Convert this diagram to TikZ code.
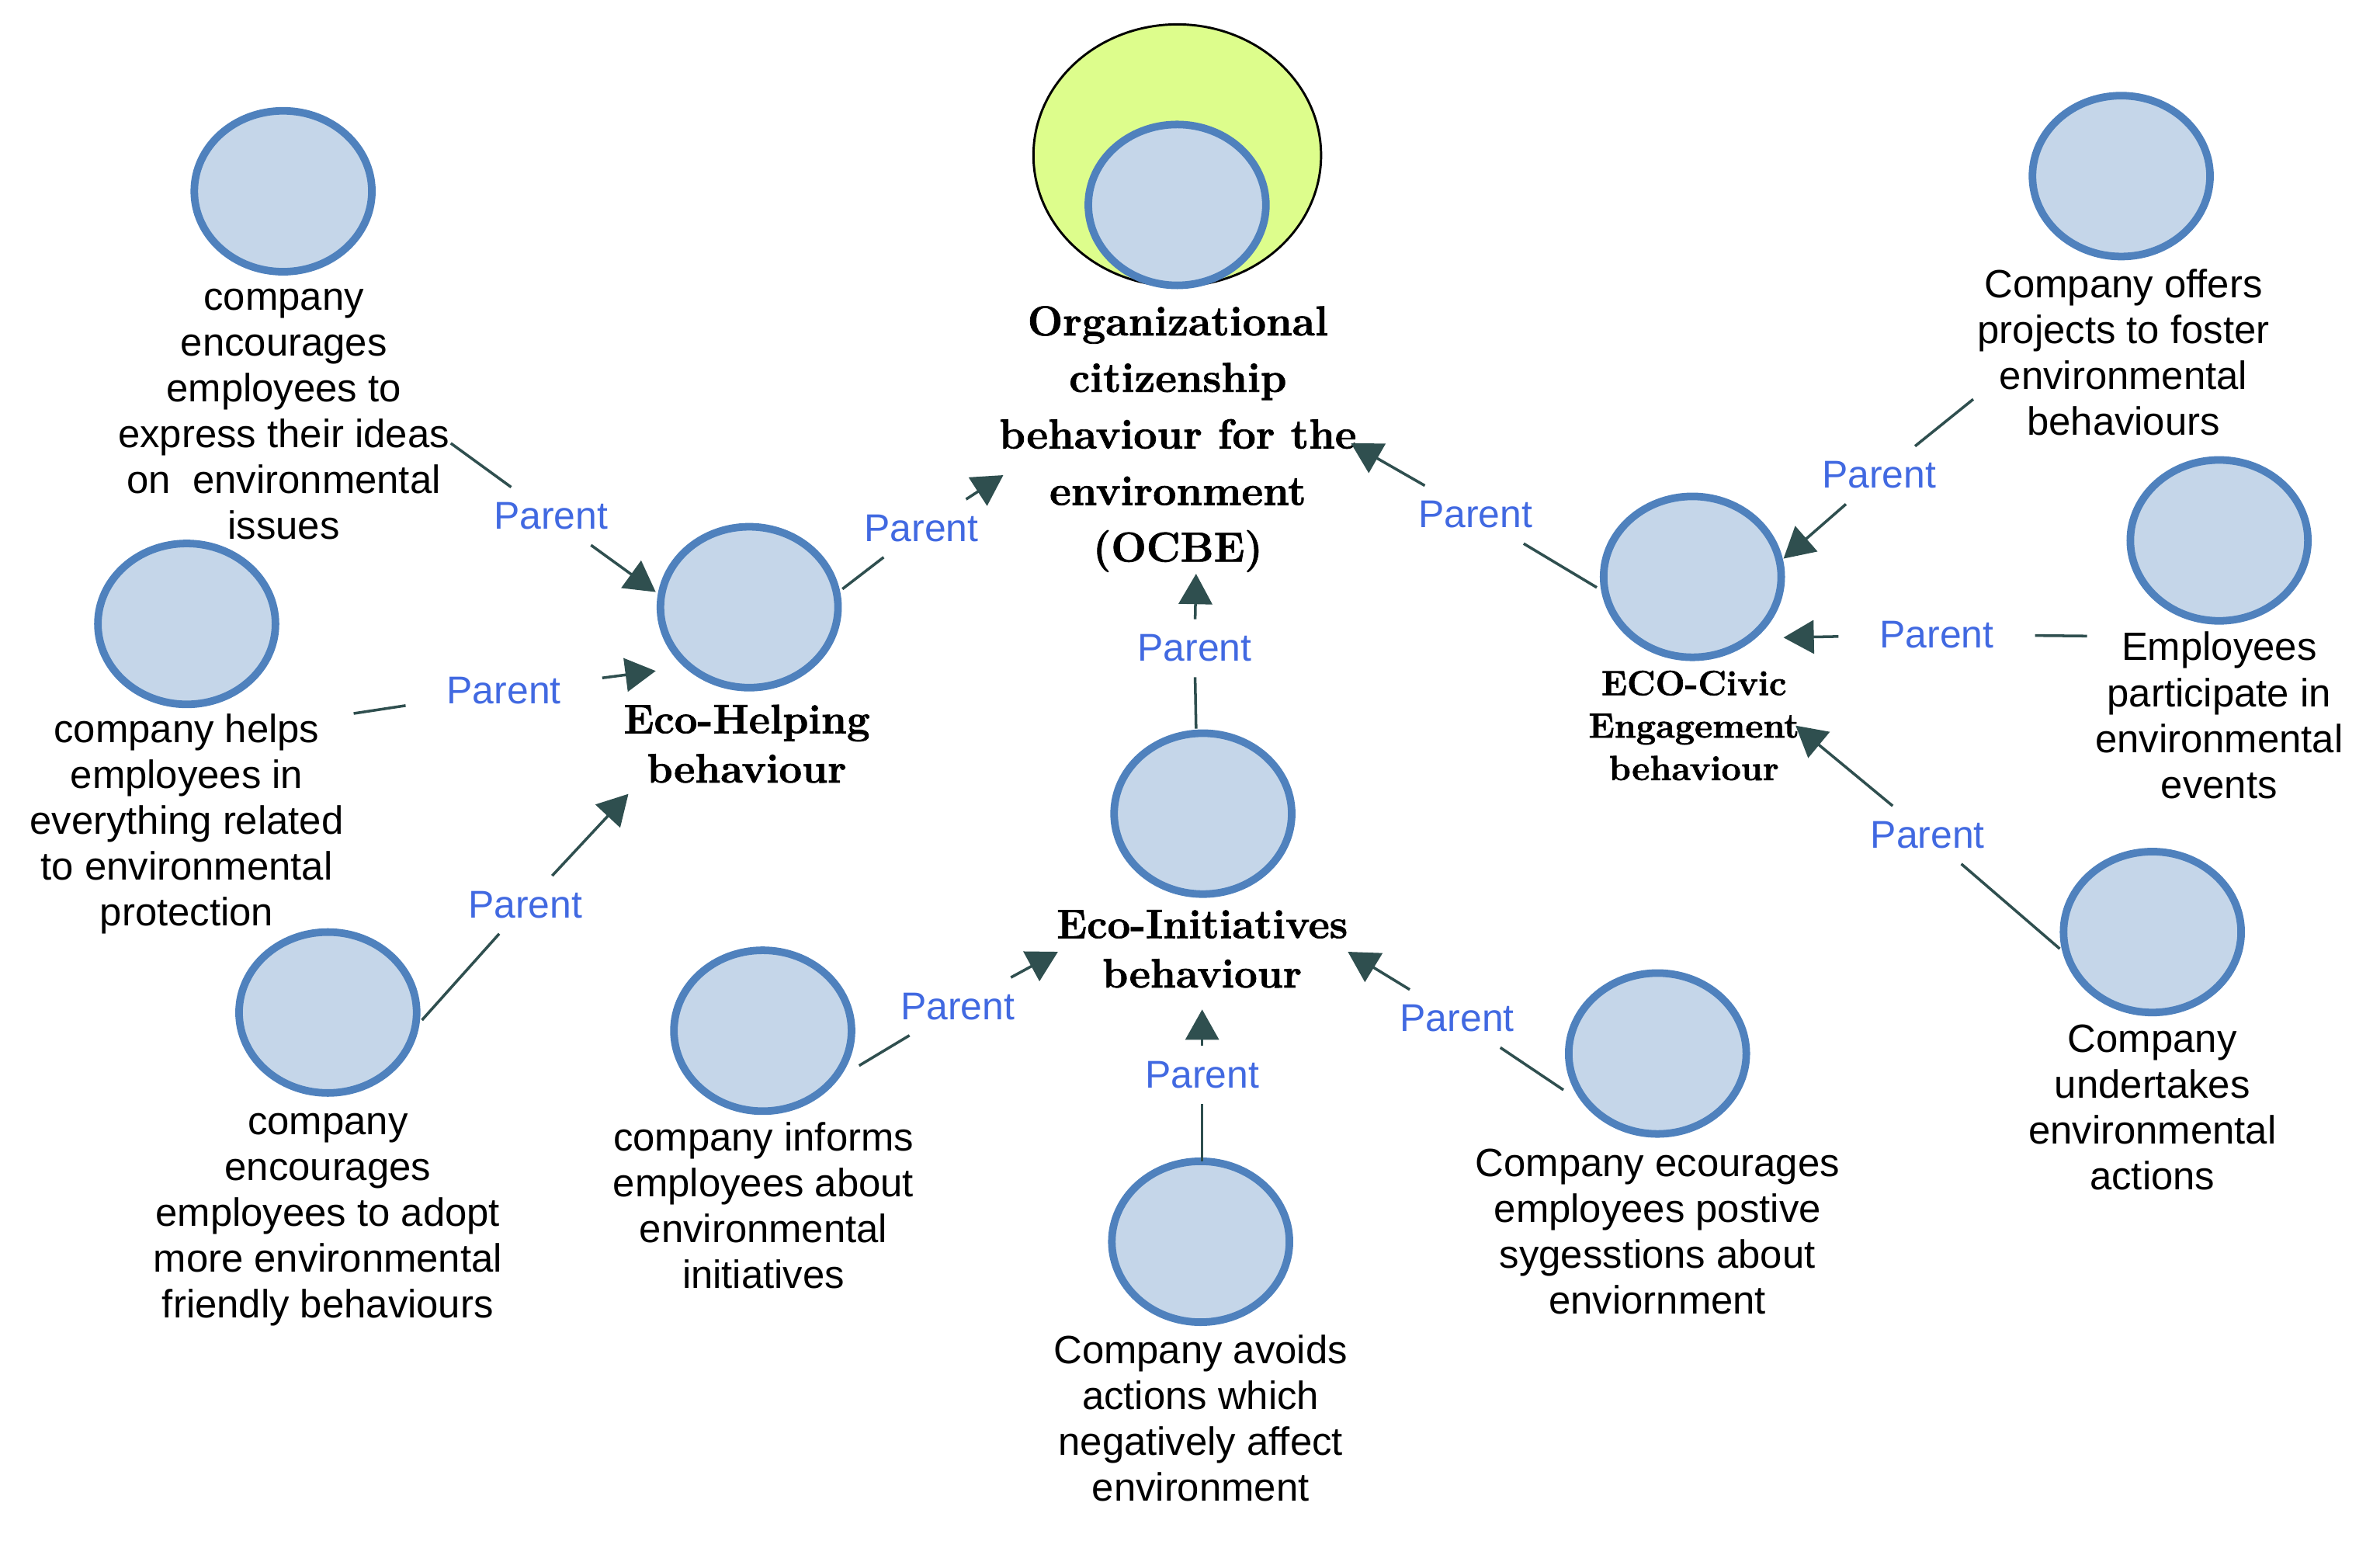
\documentclass[tikz,border=0pt]{standalone}
\usepackage{fontspec}
\newfontfamily\arialfont{Liberation Sans}
\newfontfamily\hdfont[FakeBold=1.5]{Latin Modern Roman}
\usetikzlibrary{shapes.geometric,arrows.meta}
\definecolor{leaffill}{HTML}{C5D6E9}
\definecolor{leafdraw}{HTML}{4F81BD}
\definecolor{ocbefill}{HTML}{DDFD8C}
\definecolor{parentblue}{HTML}{4169E1}
\definecolor{connc}{HTML}{2F4F4F}
\newcommand\lnrule{\rule{0pt}{0.8em}}
\begin{document}
\begin{tikzpicture}[x=1pt,y=-1pt,
  leaf/.style={ellipse,minimum width=117pt,minimum height=106pt,inner sep=0pt,
    fill=leaffill,draw=leafdraw,line width=5pt},
  ocbeouter/.style={ellipse,minimum width=189.5pt,minimum height=172.5pt,inner sep=0pt,
    fill=ocbefill,draw=black,line width=1.5pt},
  lbl/.style={anchor=north,inner sep=0pt,align=center,
    font=\arialfont\fontsize{26}{30.2}\selectfont},
  hdbig/.style={anchor=north,inner sep=0pt,align=center,
    font=\hdfont\fontsize{27.5}{37.25}\selectfont\bfseries},
  hdmid/.style={anchor=north,inner sep=0pt,align=center,
    font=\hdfont\fontsize{27}{32.5}\selectfont\bfseries},
  hdsmall/.style={anchor=north,inner sep=0pt,align=center,
    font=\hdfont\fontsize{23}{28}\selectfont\bfseries},
  plab/.style={inner xsep=27pt,inner ysep=10pt,text=parentblue,
    font=\arialfont\fontsize{25.5}{30}\selectfont},
  conn/.style={draw=connc,line width=1.8pt},
  arr/.style={conn,-{Triangle[length=20pt,width=22pt]}}
]
\useasboundingbox (0,0) rectangle (1568,1015);

% ---------- central node ----------
\node[ocbeouter] (ocbe) at (775.6,102.3) {};
\node[leaf] (ocbein) at (775.5,135) {};
\node[hdbig] (ocbelab) at (776,198.7) {\lnrule Organizational\\citizenship\\behaviour for the\\environment\\(OCBE)};

% ---------- second level ----------
\node[leaf] (help) at (493.6,400) {};
\node[hdmid] (helplab) at (492,461.2) {\lnrule Eco-Helping\\behaviour};

\node[leaf] (init) at (792.5,536) {};
\node[hdmid] (initlab) at (792,596.2) {\lnrule Eco-Initiatives\\behaviour};

\node[leaf] (civic) at (1115,380) {};
\node[hdsmall] (civiclab) at (1116,439.3) {\lnrule ECO-Civic\\Engagement\\behaviour};

% ---------- leaves ----------
\node[leaf] (a1) at (186.5,126) {};
\node[lbl] (a1lab) at (187,183.2) {\lnrule company\\encourages\\employees to\\express their ideas\\on\ \ environmental\\issues};

\node[leaf] (a2) at (123,411) {};
\node[lbl] (a2lab) at (123,468.2) {\lnrule company helps\\employees in\\everything related\\to environmental\\protection};

\node[leaf] (a3) at (216,667) {};
\node[lbl] (a3lab) at (216,726.2) {\lnrule company\\encourages\\employees to adopt\\more environmental\\friendly behaviours};

\node[leaf] (b1) at (502.5,679) {};
\node[lbl] (b1lab) at (503,737.2) {\lnrule company informs\\employees about\\environmental\\initiatives};

\node[leaf] (b2) at (791,818) {};
\node[lbl] (b2lab) at (791,877.2) {\lnrule Company avoids\\actions which\\negatively affect\\environment};

\node[leaf] (b3) at (1092,694) {};
\node[lbl] (b3lab) at (1092,754.2) {\lnrule Company ecourages\\employees postive\\sygesstions about\\enviornment};

\node[leaf] (c1) at (1397.5,116) {};
\node[lbl] (c1lab) at (1399,175.2) {\lnrule Company offers\\projects to foster\\environmental\\behaviours};

\node[leaf] (c2) at (1462,356) {};
\node[lbl] (c2lab) at (1462,414.2) {\lnrule Employees\\participate in\\environmental\\events};

\node[leaf] (c3) at (1418,614) {};
\node[lbl] (c3lab) at (1418,672.2) {\lnrule Company\\undertakes\\environmental\\actions};

% ---------- connectors ----------
% a1 -> help
\coordinate (s1) at (297,292); \coordinate (t1) at (432,390);
\node[plab] (p1) at (363,340) {Parent};
\draw[conn] (s1) -- (p1); \draw[arr] (p1) -- (t1);
% a2 -> help
\coordinate (s2) at (233,470); \coordinate (t2) at (432,442);
\node[plab] (p2) at (332,455) {Parent};
\draw[conn] (s2) -- (p2); \draw[arr] (p2) -- (t2);
% a3 -> help
\coordinate (s3) at (278,672); \coordinate (t3) at (414,523);
\node[plab] (p3) at (346,596) {Parent};
\draw[conn] (s3) -- (p3); \draw[arr] (p3) -- (t3);
% help -> ocbe
\coordinate (s4) at (555,388); \coordinate (t4) at (661,313);
\node[plab] (p4) at (607,348) {Parent};
\draw[conn] (s4) -- (p4); \draw[arr] (p4) -- (t4);
% init -> ocbe
\coordinate (s5) at (788,480); \coordinate (t5) at (788,378);
\node[plab] (p5) at (787,427) {Parent};
\draw[conn] (s5) -- (p5); \draw[arr] (p5) -- (t5);
% civic -> ocbe
\coordinate (s6) at (1052,387); \coordinate (t6) at (890,292);
\node[plab] (p6) at (972,339) {Parent};
\draw[conn] (s6) -- (p6); \draw[arr] (p6) -- (t6);
% c1 -> civic
\coordinate (s7) at (1300,263); \coordinate (t7) at (1175,368);
\node[plab] (p7) at (1238,313) {Parent};
\draw[conn] (s7) -- (p7); \draw[arr] (p7) -- (t7);
% c2 -> civic
\coordinate (s8) at (1375,419); \coordinate (t8) at (1175,420);
\node[plab] (p8) at (1276,418) {Parent};
\draw[conn] (s8) -- (p8); \draw[arr] (p8) -- (t8);
% c3 -> civic
\coordinate (s9) at (1357,625); \coordinate (t9) at (1183,478);
\node[plab] (p9) at (1270,550) {Parent};
\draw[conn] (s9) -- (p9); \draw[arr] (p9) -- (t9);
% b1 -> init
\coordinate (s10) at (566,702); \coordinate (t10) at (697,627);
\node[plab] (p10) at (631,663) {Parent};
\draw[conn] (s10) -- (p10); \draw[arr] (p10) -- (t10);
% b2 -> init
\coordinate (s11) at (792,765); \coordinate (t11) at (792,665);
\node[plab] (p11) at (792,708) {Parent};
\draw[conn] (s11) -- (p11); \draw[arr] (p11) -- (t11);
% b3 -> init
\coordinate (s12) at (1030,718); \coordinate (t12) at (888,627);
\node[plab] (p12) at (960,671) {Parent};
\draw[conn] (s12) -- (p12); \draw[arr] (p12) -- (t12);
\end{tikzpicture}
\end{document}
